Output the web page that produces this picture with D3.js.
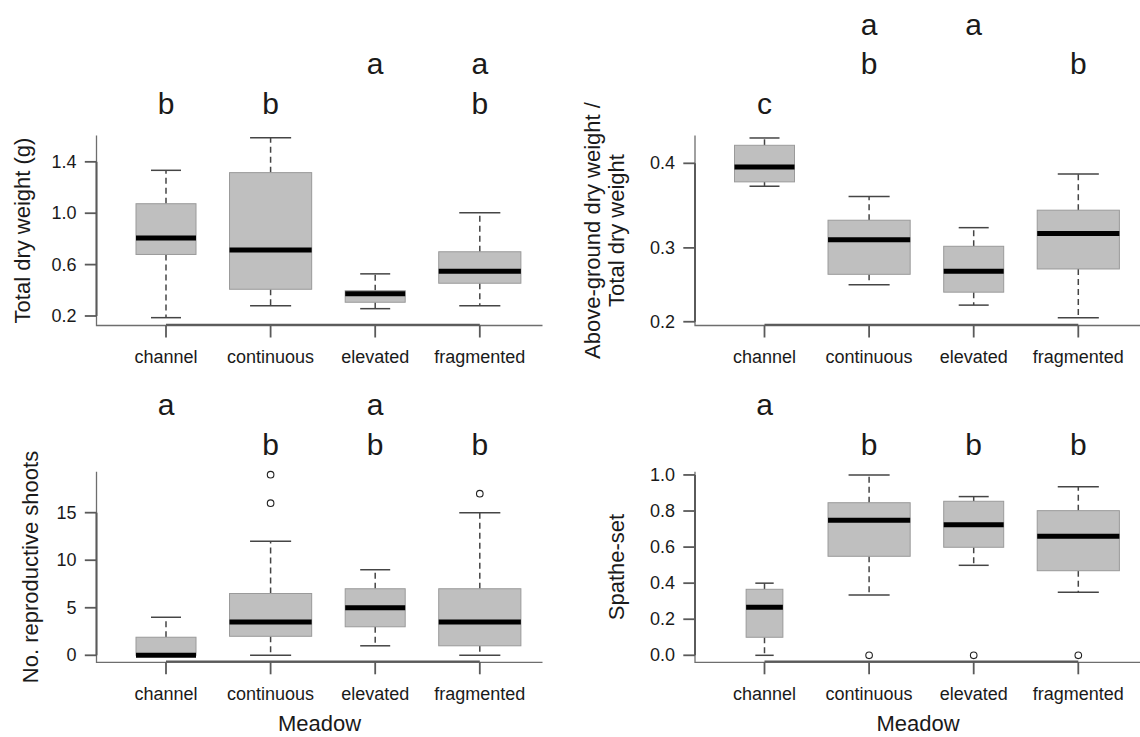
<!DOCTYPE html>
<html>
<head>
<meta charset="utf-8">
<script src="https://cdnjs.cloudflare.com/ajax/libs/d3/7.8.5/d3.min.js"></script>
<style>
  html, body { margin: 0; padding: 0; background: #fff; }
</style>
</head>
<body>
<div id="chart"></div>
<script>
// ---------------- DATA ----------------
var meadows = ['channel', 'continuous', 'elevated', 'fragmented'];

// box stats per meadow: [lower whisker, Q1, median, Q3, upper whisker]
var dryWeightStats = [
    [0.187, 0.679, 0.807, 1.074, 1.334],
    [0.280, 0.408, 0.713, 1.316, 1.587],
    [0.257, 0.307, 0.374, 0.397, 0.528],
    [0.280, 0.455, 0.549, 0.700, 1.004]
];
var dryWeightOutliers = [[], [], [], []];
var dryWeightLetters = ['b', 'b', 'a', 'ab'];
var dryWeightTicks = [0.2, 0.6, 1.0, 1.4];

var ratioStats = [
    [0.374, 0.379, 0.396, 0.420, 0.428],
    [0.252, 0.266, 0.310, 0.334, 0.362],
    [0.224, 0.242, 0.270, 0.302, 0.325],
    [0.206, 0.273, 0.318, 0.346, 0.388]
];
var ratioOutliers = [[], [], [], []];
var ratioLetters = ['c', 'ab', 'a', 'b'];
var ratioTicks = [0.2, 0.3, 0.4];

var shootsStats = [
    [0, 0, 0, 1.9, 4],
    [0, 2, 3.5, 6.5, 12],
    [1, 3, 5, 7, 9],
    [0, 1, 3.5, 7, 15]
];
var shootsOutliers = [[], [16, 19], [], [17]];
var shootsLetters = ['a', 'b', 'ab', 'b'];
var shootsTicks = [0, 5, 10, 15];

var spatheStats = [
    [0.000, 0.100, 0.266, 0.366, 0.400],
    [0.334, 0.549, 0.749, 0.846, 1.000],
    [0.499, 0.599, 0.724, 0.854, 0.880],
    [0.349, 0.469, 0.660, 0.802, 0.935]
];
var spatheOutliers = [[], [0], [0], [0]];
var spatheLetters = ['a', 'b', 'b', 'b'];
var spatheTicks = [0.0, 0.2, 0.4, 0.6, 0.8, 1.0];

// sample sizes (box widths are proportional to sqrt(n))
var sampleSizes = [16, 30, 16, 30];
var spatheSampleSizes = [6, 30, 16, 30];

// ---------------- LAYOUT ----------------
var attrs = {
    svgWidth: 1140,
    svgHeight: 737,
    font: '"Liberation Sans", Arial, Helvetica, sans-serif',
    boxFill: '#bfbfbf',
    boxStroke: '#9a9a9a',
    whiskerColor: '#454545',
    axisColor: '#5a5a5a',
    textColor: '#1a1a1a',
    tickFont: 18,
    titleFont: 22,
    letterFont: 30,
    frameWidth: 446,
    firstCat: 69.5,
    catStep: 104.6,
    boxUnit: 15
};

var panels = [
    {
        left: 96.5, top: 135.5, bottom: 325.5, letterGap: 22,
        stats: dryWeightStats, outliers: dryWeightOutliers, letters: dryWeightLetters,
        ticks: dryWeightTicks, fmt: d3.format('.1f'), domain: [0.126, 1.605], n: sampleSizes,
        title: ['Total dry weight (g)'], titleX: [30], xTitle: false
    },
    {
        left: 695, top: 135.5, bottom: 325.5, letterGap: 22,
        stats: ratioStats, outliers: ratioOutliers, letters: ratioLetters,
        ticks: ratioTicks, fmt: d3.format('.1f'), domain: [0.1944, 0.4307], exponent: 1.4, n: sampleSizes,
        title: ['Above-ground dry weight /', 'Total dry weight'], titleX: [600, 623.5], xTitle: false
    },
    {
        left: 96.5, top: 471.7, bottom: 662.3, letterGap: 17,
        stats: shootsStats, outliers: shootsOutliers, letters: shootsLetters,
        ticks: shootsTicks, fmt: d3.format('d'), domain: [-0.736, 19.31], n: sampleSizes,
        title: ['No. reproductive shoots'], titleX: [38], xTitle: true
    },
    {
        left: 695, top: 471.7, bottom: 662.3, letterGap: 17,
        stats: spatheStats, outliers: spatheOutliers, letters: spatheLetters,
        ticks: spatheTicks, fmt: d3.format('.1f'), domain: [-0.0388, 1.018], n: spatheSampleSizes,
        title: ['Spathe-set'], titleX: [623.5], xTitle: true
    }
];

var svg = d3.select('#chart').append('svg')
    .attr('width', attrs.svgWidth)
    .attr('height', attrs.svgHeight)
    .attr('font-family', attrs.font)
    .style('background-color', '#fff');

panels.forEach(drawPanel);

function drawPanel(p) {
    var g = svg.append('g');

    var x = d3.scalePoint()
        .domain(meadows)
        .range([p.left + attrs.firstCat, p.left + attrs.firstCat + attrs.catStep * (meadows.length - 1)]);

    var y = (p.exponent ? d3.scalePow().exponent(p.exponent) : d3.scaleLinear())
        .domain(p.domain)
        .range([p.bottom, p.top]);

    var right = Math.min(p.left + attrs.frameWidth, attrs.svgWidth);

    // frame (L shape)
    g.append('path')
        .attr('d', 'M' + p.left + ',' + p.top + 'V' + p.bottom + 'H' + right)
        .attr('fill', 'none')
        .attr('stroke', '#6e6e6e')
        .attr('stroke-width', 1.3);

    // y axis line + ticks
    var yt = p.ticks;
    g.append('line')
        .attr('x1', p.left).attr('x2', p.left)
        .attr('y1', y(yt[0])).attr('y2', y(yt[yt.length - 1]))
        .attr('stroke', attrs.axisColor).attr('stroke-width', 2);
    g.selectAll('.ytick').data(yt).enter().append('line')
        .attr('x1', p.left - 11.7).attr('x2', p.left)
        .attr('y1', d => y(d)).attr('y2', d => y(d))
        .attr('stroke', attrs.axisColor).attr('stroke-width', 1.8);
    g.selectAll('.ylab').data(yt).enter().append('text')
        .attr('x', p.left - 20).attr('y', d => y(d))
        .attr('text-anchor', 'end').attr('dominant-baseline', 'central')
        .attr('font-size', attrs.tickFont).attr('fill', attrs.textColor)
        .text(p.fmt);

    // x axis line + ticks
    g.append('line')
        .attr('x1', x(meadows[0])).attr('x2', x(meadows[meadows.length - 1]))
        .attr('y1', p.bottom - 0.8).attr('y2', p.bottom - 0.8)
        .attr('stroke', attrs.axisColor).attr('stroke-width', 2);
    g.selectAll('.xtick').data(meadows).enter().append('line')
        .attr('x1', d => x(d)).attr('x2', d => x(d))
        .attr('y1', p.bottom).attr('y2', p.bottom + 12)
        .attr('stroke', attrs.axisColor).attr('stroke-width', 1.8);
    g.selectAll('.xlab').data(meadows).enter().append('text')
        .attr('x', d => x(d)).attr('y', p.bottom + 37.7)
        .attr('text-anchor', 'middle')
        .attr('font-size', attrs.tickFont).attr('fill', attrs.textColor)
        .text(d => d);

    // boxes
    var boxes = g.selectAll('.box').data(meadows.map((m, i) => ({
        m: m, s: p.stats[i], out: p.outliers[i], w: attrs.boxUnit * Math.sqrt(p.n[i])
    }))).enter().append('g').attr('class', 'box');

    // whiskers (dashed)
    boxes.append('line')
        .attr('x1', d => x(d.m)).attr('x2', d => x(d.m))
        .attr('y1', d => y(d.s[3])).attr('y2', d => y(d.s[4]))
        .attr('stroke', attrs.whiskerColor).attr('stroke-width', 1.5)
        .attr('stroke-dasharray', '6,4');
    boxes.append('line')
        .attr('x1', d => x(d.m)).attr('x2', d => x(d.m))
        .attr('y1', d => y(d.s[1])).attr('y2', d => y(d.s[0]))
        .attr('stroke', attrs.whiskerColor).attr('stroke-width', 1.5)
        .attr('stroke-dasharray', '6,4');
    // caps
    [0, 4].forEach(function (k) {
        boxes.append('line')
            .attr('x1', d => x(d.m) - d.w / 4).attr('x2', d => x(d.m) + d.w / 4)
            .attr('y1', d => y(d.s[k])).attr('y2', d => y(d.s[k]))
            .attr('stroke', attrs.whiskerColor).attr('stroke-width', 1.5);
    });
    // box
    boxes.append('rect')
        .attr('x', d => x(d.m) - d.w / 2)
        .attr('width', d => d.w)
        .attr('y', d => y(d.s[3]))
        .attr('height', d => y(d.s[1]) - y(d.s[3]))
        .attr('fill', attrs.boxFill)
        .attr('stroke', attrs.boxStroke).attr('stroke-width', 1);
    // median
    boxes.append('line')
        .attr('x1', d => x(d.m) - d.w / 2).attr('x2', d => x(d.m) + d.w / 2)
        .attr('y1', d => y(d.s[2])).attr('y2', d => y(d.s[2]))
        .attr('stroke', '#000').attr('stroke-width', 5);
    // outliers
    boxes.selectAll('circle').data(d => d.out.map(v => ({ m: d.m, v: v }))).enter().append('circle')
        .attr('cx', d => x(d.m)).attr('cy', d => y(d.v)).attr('r', 3.3)
        .attr('fill', '#fff').attr('stroke', '#222').attr('stroke-width', 1.1);

    // significance letters (stacked: highest letter nearest the plot)
    var maxCode = d3.max(p.letters.join('').split(''), c => c.charCodeAt(0));
    var lettersFlat = [];
    p.letters.forEach(function (str, i) {
        str.split('').forEach(function (c) {
            lettersFlat.push({ m: meadows[i], c: c, row: maxCode - c.charCodeAt(0) });
        });
    });
    g.selectAll('.letter').data(lettersFlat).enter().append('text')
        .attr('x', d => x(d.m))
        .attr('y', d => p.top - p.letterGap - d.row * 39.5)
        .attr('text-anchor', 'middle')
        .attr('font-size', attrs.letterFont).attr('fill', attrs.textColor)
        .text(d => d.c);

    // y title
    var cy = (p.top + p.bottom) / 2;
    p.title.forEach(function (t, i) {
        g.append('text')
            .attr('transform', 'translate(' + p.titleX[i] + ',' + cy + ') rotate(-90)')
            .attr('text-anchor', 'middle')
            .attr('font-size', attrs.titleFont).attr('fill', attrs.textColor)
            .text(t);
    });

    // x title
    if (p.xTitle) {
        g.append('text')
            .attr('x', p.left + attrs.frameWidth / 2)
            .attr('y', p.bottom + 69)
            .attr('text-anchor', 'middle')
            .attr('font-size', attrs.titleFont).attr('fill', attrs.textColor)
            .text('Meadow');
    }
}
</script>
</body>
</html>
